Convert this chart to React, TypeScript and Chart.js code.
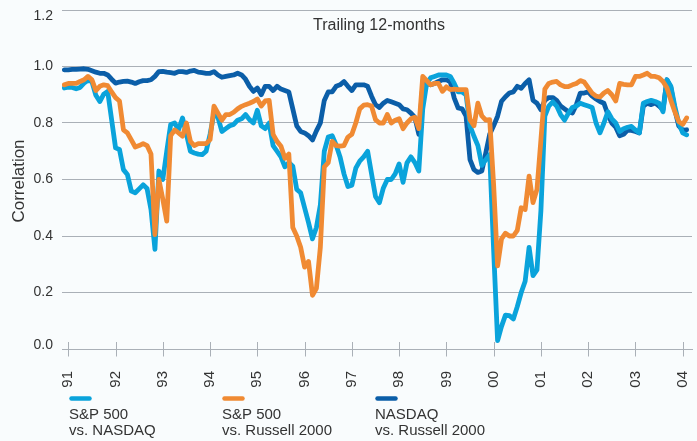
import { useEffect, useRef } from "react";
import { Chart, registerables } from "chart.js";

Chart.register(...registerables);

// ---- data ----
const FIRST_YEAR = 1990;
const FIRST_MONTH = 12; // series start: Dec 1990, monthly
const YEAR_TICKS = [1991, 1992, 1993, 1994, 1995, 1996, 1997, 1998, 1999, 2000, 2001, 2002, 2003, 2004];
const Y_TICKS = [0, 0.2, 0.4, 0.6, 0.8, 1.0, 1.2];
const CHART_TITLE = "Trailing 12-months";
const Y_TITLE = "Correlation";

const SP_VS_NASDAQ = [
  0.924, 0.927, 0.926, 0.921, 0.926, 0.941, 0.951, 0.947, 0.898, 0.876, 0.902, 0.912,
  0.812, 0.712, 0.706, 0.635, 0.618, 0.559, 0.553, 0.567, 0.581, 0.568, 0.494, 0.353,
  0.63, 0.6, 0.7, 0.795, 0.8, 0.776, 0.818, 0.76, 0.7, 0.694, 0.69, 0.688,
  0.7, 0.76, 0.835, 0.82, 0.77, 0.78, 0.79, 0.795, 0.81, 0.815, 0.83, 0.812,
  0.8, 0.845, 0.79, 0.78, 0.8, 0.72, 0.7, 0.68, 0.645, 0.66, 0.647, 0.565,
  0.553, 0.5, 0.447, 0.39, 0.43, 0.51, 0.7, 0.75, 0.755, 0.722, 0.68, 0.62,
  0.575, 0.58, 0.64, 0.665, 0.68, 0.7, 0.62, 0.54, 0.518, 0.57, 0.6, 0.6,
  0.62, 0.655, 0.59, 0.659, 0.68, 0.66, 0.63, 0.85, 0.94, 0.96, 0.965, 0.97,
  0.97, 0.97, 0.965, 0.94, 0.91, 0.91, 0.9, 0.79, 0.753, 0.72, 0.65, 0.67,
  0.688, 0.35, 0.03, 0.08, 0.12, 0.118, 0.106, 0.15, 0.2, 0.24, 0.36, 0.26,
  0.28, 0.49, 0.824, 0.86, 0.875, 0.86, 0.83, 0.81, 0.835, 0.855, 0.86, 0.87,
  0.865, 0.86, 0.855, 0.8, 0.765, 0.8, 0.84, 0.815, 0.8, 0.77, 0.78, 0.785,
  0.788, 0.775, 0.765, 0.87, 0.876, 0.88, 0.876, 0.87, 0.84, 0.953, 0.93, 0.859,
  0.8, 0.765, 0.758,
];

const SP_VS_RUSSELL = [
  0.935, 0.94, 0.94, 0.94, 0.947, 0.953, 0.965, 0.953, 0.915, 0.93, 0.935, 0.932,
  0.91, 0.89, 0.878, 0.776, 0.765, 0.74, 0.715, 0.72, 0.727, 0.72, 0.69, 0.405,
  0.6, 0.53, 0.453, 0.755, 0.775, 0.765, 0.753, 0.8, 0.735, 0.72, 0.727, 0.727,
  0.727, 0.741, 0.86, 0.835, 0.81, 0.83, 0.83, 0.838, 0.85, 0.859, 0.865, 0.87,
  0.876, 0.885, 0.86, 0.878, 0.88, 0.76, 0.735, 0.718, 0.675, 0.69, 0.43, 0.4,
  0.36, 0.29, 0.31, 0.19, 0.215, 0.36, 0.645, 0.66, 0.735, 0.72, 0.718, 0.72,
  0.75, 0.76, 0.8, 0.85, 0.863, 0.865, 0.86, 0.812, 0.8, 0.8, 0.83, 0.8,
  0.81, 0.815, 0.78, 0.8, 0.815, 0.82, 0.78, 0.965, 0.95, 0.935, 0.94, 0.94,
  0.912, 0.928, 0.918, 0.92, 0.918, 0.918, 0.918, 0.812, 0.79, 0.87, 0.825, 0.81,
  0.812, 0.58, 0.294, 0.39, 0.41, 0.4, 0.4, 0.42, 0.5, 0.494, 0.612, 0.518,
  0.565, 0.74, 0.92, 0.94, 0.945, 0.947, 0.935, 0.929, 0.929, 0.935, 0.94, 0.95,
  0.945, 0.925, 0.906, 0.895, 0.892, 0.906, 0.915, 0.9, 0.878, 0.94, 0.937, 0.935,
  0.935, 0.965, 0.965, 0.97, 0.976, 0.965, 0.965, 0.96, 0.947, 0.925, 0.88, 0.84,
  0.805, 0.795, 0.818,
];

const NASDAQ_VS_RUSSELL = [
  0.988, 0.988, 0.99, 0.99, 0.991, 0.992, 0.99, 0.985, 0.98, 0.976, 0.976, 0.97,
  0.955, 0.941, 0.945, 0.947, 0.948, 0.945, 0.94, 0.946, 0.95, 0.95, 0.953, 0.965,
  0.982, 0.983, 0.98, 0.978, 0.976, 0.982, 0.982, 0.979, 0.984, 0.986, 0.98, 0.978,
  0.976, 0.976, 0.982, 0.97, 0.962, 0.965, 0.968, 0.97, 0.976, 0.97, 0.955, 0.93,
  0.912, 0.924, 0.9, 0.93, 0.93, 0.915, 0.93, 0.92, 0.915, 0.91, 0.85, 0.79,
  0.77, 0.765, 0.755, 0.74, 0.772, 0.8, 0.88, 0.91, 0.91, 0.93, 0.935, 0.947,
  0.93, 0.915, 0.935, 0.935, 0.935, 0.93, 0.895, 0.865, 0.855, 0.87, 0.88, 0.875,
  0.87, 0.865, 0.85, 0.847, 0.835, 0.82, 0.76, 0.93, 0.94, 0.935, 0.94, 0.947,
  0.953, 0.953, 0.945, 0.888, 0.853, 0.85, 0.824, 0.67, 0.635, 0.625, 0.63, 0.694,
  0.76, 0.79, 0.824, 0.877, 0.893, 0.906, 0.91, 0.93, 0.923, 0.94, 0.953, 0.88,
  0.87, 0.847, 0.88, 0.89, 0.89, 0.88, 0.86, 0.85, 0.84, 0.835, 0.865, 0.906,
  0.906, 0.91, 0.895, 0.885, 0.876, 0.87, 0.83, 0.8, 0.785, 0.755, 0.76, 0.775,
  0.774, 0.77, 0.765, 0.86, 0.87, 0.865, 0.871, 0.86, 0.847, 0.953, 0.925, 0.847,
  0.79, 0.775, 0.776,
];

const SERIES_NAMES = [
  ["S&P 500", "vs. NASDAQ"],
  ["S&P 500", "vs. Russell 2000"],
  ["NASDAQ", "vs. Russell 2000"],
];
const SERIES_COLORS = ["#0aa3db", "#f08a33", "#0b5ea8"];

// ---- styles ----
const BG = "#f9fcfd";
const GRID = "#aab0b7";
const TEXT = "#333333";
const FONT = "'Liberation Sans', Arial, Helvetica, sans-serif";

const monthToYear = (i: number) => FIRST_YEAR + (FIRST_MONTH - 1) / 12 + i / 12;
const toPoints = (arr: number[]) => arr.map((v, i) => ({ x: monthToYear(i), y: v }));

const decor = {
  id: "decor",
  beforeDraw(chart: any) {
    const { ctx, width, height } = chart;
    ctx.save();
    ctx.fillStyle = BG;
    ctx.fillRect(0, 0, width, height);
    ctx.restore();
  },
  beforeDatasetsDraw(chart: any) {
    const { ctx, chartArea } = chart;
    const xs = chart.scales.x;
    ctx.save();
    ctx.strokeStyle = GRID;
    ctx.lineWidth = 1;
    ctx.beginPath();
    xs.ticks.forEach((t: any) => {
      const px = Math.round(xs.getPixelForValue(t.value)) + 0.5;
      ctx.moveTo(px, chartArea.bottom - 7);
      ctx.lineTo(px, chartArea.bottom + 7.5);
    });
    ctx.stroke();
    ctx.restore();
  },
  afterDraw(chart: any) {
    const { ctx, chartArea, height } = chart;
    const ys = chart.scales.y;
    ctx.save();
    ctx.fillStyle = TEXT;
    // y tick labels
    ctx.font = `14px ${FONT}`;
    ctx.textAlign = "right";
    ctx.textBaseline = "middle";
    ys.ticks.forEach((t: any) => {
      const py = ys.getPixelForValue(t.value);
      const y = Math.min(Math.max(py, chartArea.top + 6), chartArea.bottom - 4);
      ctx.fillText(Number(t.value).toFixed(1), chartArea.left - 9, y);
    });
    // chart title
    ctx.font = `16px ${FONT}`;
    ctx.textAlign = "center";
    ctx.textBaseline = "alphabetic";
    ctx.fillText(CHART_TITLE, (chartArea.left + chartArea.right) / 2 + 2, chartArea.top + 20);
    // y title
    ctx.save();
    ctx.translate(19, (chartArea.top + chartArea.bottom) / 2 + 1.5);
    ctx.rotate(-Math.PI / 2);
    ctx.font = `17px ${FONT}`;
    ctx.textAlign = "center";
    ctx.textBaseline = "middle";
    ctx.fillText(Y_TITLE, 0, 0);
    ctx.restore();
    // legend
    const x0 = 69;
    const step = 153;
    SERIES_NAMES.forEach((lines, k) => {
      const lx = x0 + k * step;
      ctx.strokeStyle = SERIES_COLORS[k];
      ctx.lineWidth = 4.5;
      ctx.lineCap = "round";
      ctx.beginPath();
      ctx.moveTo(lx + 2.5, height - 42.5);
      ctx.lineTo(lx + 20.5, height - 42.5);
      ctx.stroke();
      ctx.font = `15px ${FONT}`;
      ctx.textAlign = "left";
      ctx.textBaseline = "alphabetic";
      ctx.fillStyle = TEXT;
      ctx.fillText(lines[0], lx, height - 22);
      ctx.fillText(lines[1], lx, height - 6);
    });
    ctx.restore();
  },
};

export default function App() {
  const ref = useRef<HTMLCanvasElement | null>(null);

  useEffect(() => {
    document.body.style.margin = "0";
    document.body.style.background = BG;
    const canvas = ref.current;
    if (!canvas) return;
    const seriesList = [SP_VS_NASDAQ, SP_VS_RUSSELL, NASDAQ_VS_RUSSELL];
    const orders = [1, 0, 2];
    const chart = new Chart(canvas, {
      type: "line",
      data: {
        datasets: seriesList.map((arr, k) => ({
          label: SERIES_NAMES[k].join(" "),
          data: toPoints(arr),
          borderColor: SERIES_COLORS[k],
          backgroundColor: SERIES_COLORS[k],
          borderWidth: 4.8,
          pointRadius: 0,
          tension: 0,
          borderJoinStyle: "round" as const,
          borderCapStyle: "round" as const,
          order: orders[k],
          fill: false,
        })),
      },
      options: {
        responsive: false,
        animation: false,
        devicePixelRatio: 1,
        layout: { padding: { top: 10, right: 5, left: 0, bottom: 0 } },
        plugins: {
          legend: { display: false },
          tooltip: { enabled: false },
          title: { display: false },
        },
        scales: {
          x: {
            type: "linear",
            min: 1990.867,
            max: 2004.197,
            afterBuildTicks: (s: any) => {
              s.ticks = YEAR_TICKS.map((v) => ({ value: v }));
            },
            afterFit: (s: any) => {
              s.height = 92;
              s.paddingLeft = 0;
              s.paddingRight = 0;
            },
            grid: { display: false },
            border: { display: true, color: GRID, width: 1 },
            ticks: {
              autoSkip: false,
              minRotation: 90,
              maxRotation: 90,
              padding: 14,
              color: TEXT,
              font: { family: FONT, size: 15 },
              callback: (v: any) => String(Math.round(Number(v)) % 100).padStart(2, "0"),
            },
          },
          y: {
            type: "linear",
            min: 0,
            max: 1.2,
            afterBuildTicks: (s: any) => {
              s.ticks = Y_TICKS.map((v) => ({ value: v }));
            },
            afterFit: (s: any) => {
              s.width = 62;
              s.paddingTop = 0;
              s.paddingBottom = 0;
            },
            grid: { color: GRID, lineWidth: 1, drawTicks: false },
            border: { display: false },
            ticks: { display: false },
          },
        },
      },
      plugins: [decor],
    });
    return () => chart.destroy();
  }, []);

  return <canvas ref={ref} width={697} height={441} style={{ display: "block" }} />;
}
